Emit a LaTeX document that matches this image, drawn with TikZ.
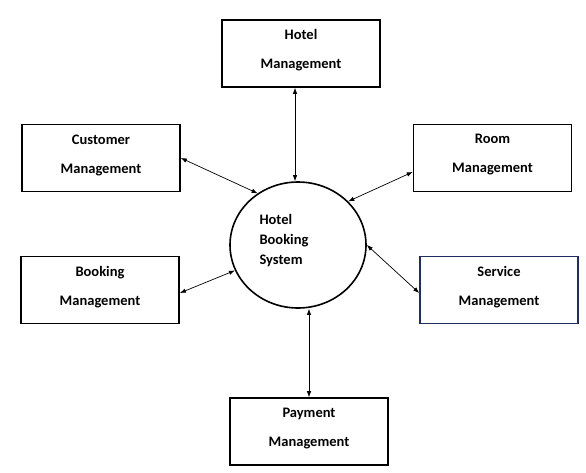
\documentclass[tikz,border=0pt]{standalone}
\usepackage{fontspec}
\setmainfont{Carlito}
\usepackage{tikz}
\usetikzlibrary{arrows,arrows.meta,calc,positioning,fit,shapes.geometric}
\definecolor{navyedge}{RGB}{31,45,96}
\tikzset{
  mgmt/.style={draw=black, line width=1.6pt, minimum width=158pt, minimum height=67pt,
    inner sep=0pt, align=center, text depth=8.5pt, font=\fontsize{14.5}{29}\selectfont\bfseries},
  hub/.style={draw=black, line width=1.6pt, ellipse, minimum width=136pt, minimum height=126pt,
    inner sep=0pt},
  hubtext/.style={align=left, font=\fontsize{14.5}{20}\selectfont\bfseries},
  link/.style={line width=0.7pt, {Latex[length=6pt,width=4.5pt]}-{Latex[length=6pt,width=4.5pt]}}
}

\begin{document}
\begin{tikzpicture}[x=1pt,y=-1pt]
\useasboundingbox (0,0) rectangle (586,472);
\node[hub] (sys) at (298,245) {};
\node[hubtext, anchor=west] (systext) at (256,241) {Hotel\\Booking\\System};
\node[mgmt] (hotel) at (301,53.5) {Hotel\\Management};
\node[mgmt] (customer) at (101,158) {Customer\\Management};
\node[mgmt] (room) at (492.5,158) {Room\\Management};
\node[mgmt] (booking) at (100,290) {Booking\\Management};
\node[mgmt, draw=navyedge] (service) at (499,290) {Service\\Management};
\node[mgmt] (payment) at (309,431.5) {Payment\\Management};
\draw[link] ([xshift=-6pt]hotel.south) -- ([xshift=-3pt]sys.north);
\draw[link] (customer.east) -- (sys.128);
\draw[link] ([yshift=-14pt]room.west) -- (sys.41);
\draw[link] ([yshift=-3pt]booking.east) -- (sys.202);
\draw[link] ([yshift=-3pt]service.west) -- (sys.east);
\draw[link] (payment.north) -- (payment.north |- sys.south);
\end{tikzpicture}
\end{document}
